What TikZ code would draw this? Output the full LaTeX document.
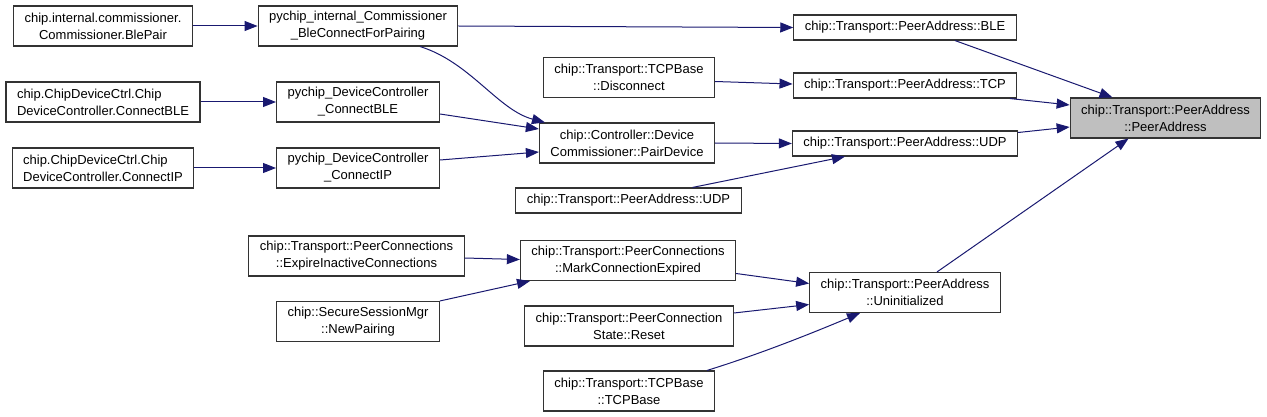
\documentclass[tikz,border=0pt]{standalone}
\usepackage{fontspec}
\setmainfont{Liberation Sans}
\usepackage{xcolor}
\usetikzlibrary{arrows.meta}
\definecolor{calledge}{RGB}{25,25,112}
\definecolor{focusgray}{RGB}{191,191,191}
\tikzset{
    fnbox/.style={draw=black!80, line width=1.1pt, align=center, font=\fontsize{13}{17}\selectfont, inner xsep=11pt, inner ysep=1pt, minimum height=25pt},
    fnboxtwo/.style={fnbox, minimum height=40pt},
    focusbox/.style={fnboxtwo, fill=focusgray},
    callarrow/.style={-{Triangle[length=13pt,width=10pt,fill=calledge]}, draw=calledge, line width=1pt}
}

\begin{document}
\begin{tikzpicture}[x=1pt, y=-1pt]
        \useasboundingbox (0,0) rectangle (1267,417);

        \node[fnboxtwo] (blepair) at (103,26) {chip.internal.commissioner.\\Commissioner.BlePair};
        \node[fnboxtwo, align=left] (ctrlble) at (103,102) {chip.ChipDeviceCtrl.Chip\\DeviceController.ConnectBLE};
        \node[fnboxtwo, align=left] (ctrlip) at (103,168) {chip.ChipDeviceCtrl.Chip\\DeviceController.ConnectIP};

        \node[fnboxtwo] (bleconn) at (358,26) {pychip\_internal\_Commissioner\\\_BleConnectForPairing};
        \node[fnboxtwo] (pyble) at (358,102) {pychip\_DeviceController\\\_ConnectBLE};
        \node[fnboxtwo] (pyip) at (358,168) {pychip\_DeviceController\\\_ConnectIP};
        \node[fnboxtwo] (expire) at (356.5,256) {chip::Transport::PeerConnections\\::ExpireInactiveConnections};
        \node[fnboxtwo] (newpair) at (358,321.5) {chip::SecureSessionMgr\\::NewPairing};

        \node[fnboxtwo] (disconn) at (629,77.5) {chip::Transport::TCPBase\\::Disconnect};
        \node[fnboxtwo] (pairdev) at (627,143) {chip::Controller::Device\\Commissioner::PairDevice};
        \node[fnbox] (udpb) at (628.5,200.5) {chip::Transport::PeerAddress::UDP};
        \node[fnboxtwo] (markexp) at (628,260.5) {chip::Transport::PeerConnections\\::MarkConnectionExpired};
        \node[fnboxtwo] (reset) at (629,326) {chip::Transport::PeerConnection\\State::Reset};
        \node[fnboxtwo] (tcpbase) at (629,391) {chip::Transport::TCPBase\\::TCPBase};

        \node[fnbox] (ble) at (905,27.5) {chip::Transport::PeerAddress::BLE};
        \node[fnbox] (tcp) at (905,85.5) {chip::Transport::PeerAddress::TCP};
        \node[fnbox] (udp) at (905,143.5) {chip::Transport::PeerAddress::UDP};
        \node[fnboxtwo] (uninit) at (905,292.5) {chip::Transport::PeerAddress\\::Uninitialized};

        \node[focusbox] (peeraddr) at (1165.5,118) {chip::Transport::PeerAddress\\::PeerAddress};

        \draw[callarrow] (blepair.east) -- (bleconn.west);
        \draw[callarrow] (ctrlble.east) -- (pyble.west);
        \draw[callarrow] (ctrlip.east) -- (pyip.west);
        \draw[callarrow] (bleconn.east) -- (ble.west);
        \draw[callarrow] ([xshift=62]bleconn.south) .. controls (470,62) and (498,110) .. ([xshift=-82]pairdev.north);
        \draw[callarrow] ([yshift=-12]pyble.east) -- ([yshift=14]pairdev.west);
        \draw[callarrow] ([yshift=8]pyip.east) -- ([yshift=-9]pairdev.west);
        \draw[callarrow] ([yshift=-4]disconn.east) -- ([yshift=1.5]tcp.west);
        \draw[callarrow] (pairdev.east) -- (udp.west);
        \draw[callarrow] ([xshift=64]udpb.north) -- ([xshift=-60]udp.south);

        \draw[callarrow] ([xshift=50]ble.south) -- ([xshift=-53]peeraddr.north);
        \draw[callarrow] ([xshift=105]tcp.south) -- ([yshift=13]peeraddr.west);
        \draw[callarrow] ([yshift=11]udp.east) -- ([yshift=-9]peeraddr.west);
        \draw[callarrow] ([xshift=32]uninit.north) -- ([xshift=-37]peeraddr.south);

        \draw[callarrow] ([yshift=-2]expire.east) -- ([yshift=1]markexp.west);
        \draw[callarrow] (newpair.north east) -- ([xshift=-98]markexp.south);
        \draw[callarrow] ([yshift=-13]markexp.east) -- ([yshift=9]uninit.west);
        \draw[callarrow] ([yshift=13]reset.east) -- ([yshift=-12]uninit.west);
        \draw[callarrow] ([xshift=78]tcpbase.north) .. controls (760,354) and (810,334) .. ([xshift=-45]uninit.south);
    \end{tikzpicture}
\end{document}
